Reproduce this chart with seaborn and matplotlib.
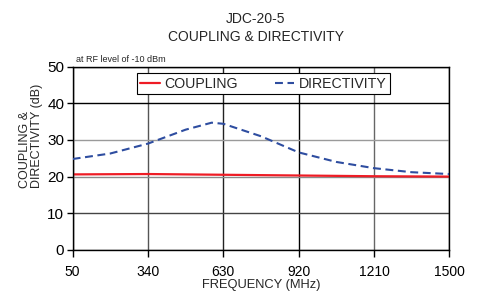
import numpy as np
import pandas as pd
import matplotlib
matplotlib.use("Agg")
import matplotlib.pyplot as plt
import seaborn as sns

# data
freq_dir = [50, 195, 340, 485, 585, 630, 775, 920, 1065, 1210, 1355, 1500]
directivity = [24.8, 26.3, 29.0, 32.8, 34.7, 34.4, 31.0, 26.6, 24.0, 22.3, 21.2, 20.7]
freq_cpl = [50, 340, 630, 920, 1210, 1500]
coupling = [20.6, 20.7, 20.5, 20.3, 20.1, 20.0]
x_ticks = [50, 340, 630, 920, 1210, 1500]
y_ticks = [0, 10, 20, 30, 40, 50]

sns.set_style("ticks")
plt.rcParams['font.family'] = ['Liberation Sans', 'DejaVu Sans']

fig, ax = plt.subplots(figsize=(4.78, 2.92), dpi=100)
fig.subplots_adjust(left=0.152, right=0.94, top=0.772, bottom=0.144)

df_c = pd.DataFrame({"f": freq_cpl, "v": coupling})
df_d = pd.DataFrame({"f": freq_dir, "v": directivity})
sns.lineplot(data=df_c, x="f", y="v", ax=ax, color="#ee1c25", lw=1.6, label="COUPLING")
sns.lineplot(data=df_d, x="f", y="v", ax=ax, color="#2e4da0", lw=1.5,
             dashes=False, label="DIRECTIVITY")
ax.lines[1].set_dashes([3.8, 2.2])
ax.lines[1].set_zorder(3)

ax.set_xlim(50, 1500)
ax.set_ylim(0, 50)
ax.set_xticks(x_ticks)
ax.set_yticks(y_ticks)
ax.grid(True, lw=1.0)
ax.set_axisbelow(True)
# gridlines in the original are a mix of black and grey
for g, c in zip(ax.get_ygridlines(), ["#444444", "#444444", "#8a8a8a", "#9a9a9a", "#000000", "#000000"]):
    g.set_color(c)
for g, c in zip(ax.get_xgridlines(), ["#000000", "#555555", "#222222", "#000000", "#666666", "#000000"]):
    g.set_color(c)
for s in ax.spines.values():
    s.set_color("black")
    s.set_linewidth(1.0)
ax.tick_params(length=4, width=1, colors="black")
ax.tick_params(axis="x", labelsize=10, length=5, pad=6)
ax.tick_params(axis="y", labelsize=11, pad=2)

ax.set_xlabel("FREQUENCY (MHz)", fontsize=9.3, labelpad=0)
ax.set_ylabel("COUPLING &\nDIRECTIVITY (dB)", fontsize=9.0, linespacing=1.05,
              multialignment="left")
ax.yaxis.set_label_coords(-0.078, 0.62)

fig.text(0.535, 0.905, "JDC-20-5\nCOUPLING & DIRECTIVITY", fontsize=10, ha="center",
         va="center", linespacing=1.4)
ax.text(0.01, 1.015, "at RF level of -10 dBm", transform=ax.transAxes,
        fontsize=6.5, ha="left", va="bottom")

leg = ax.legend(loc="upper center", bbox_to_anchor=(0.507, 0.965), ncol=2,
                fontsize=10.2, frameon=True, fancybox=False, edgecolor="black",
                handlelength=1.35, handletextpad=0.35, columnspacing=2.6,
                borderpad=0.25, borderaxespad=0, framealpha=1)
leg.get_frame().set_linewidth(0.8)

fig.savefig("out.png", dpi=100)
